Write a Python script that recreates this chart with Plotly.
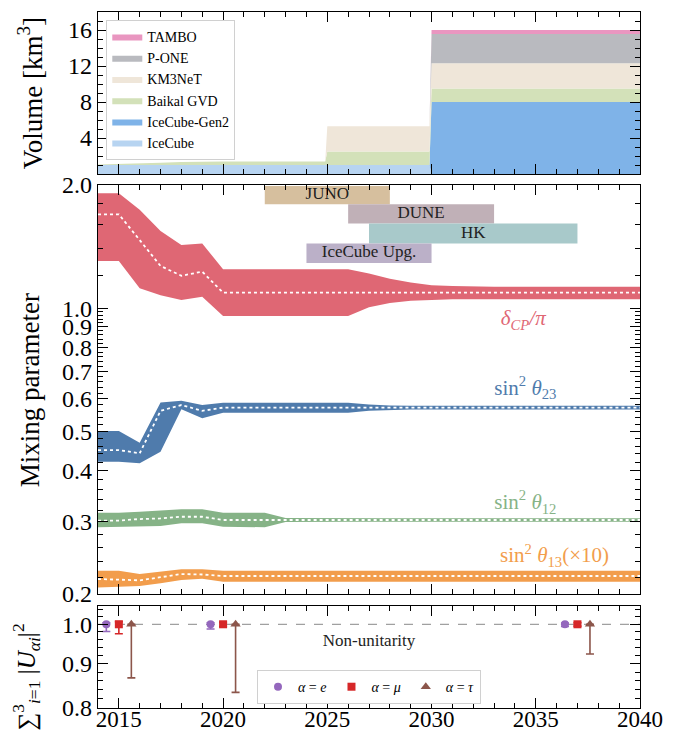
import math
import plotly.graph_objects as go

FONT = "Liberation Serif"

# ---------------- Top panel: detector volumes [km^3] ----------------
vol_years = [2014, 2015, 2016, 2017, 2018, 2019, 2020, 2024.9, 2025, 2029.9, 2030, 2040]
vol_icecube = [1, 1, 1, 1, 1, 1, 1, 1, 1, 1, 0, 0]
vol_gen2 = [0, 0, 0, 0, 0, 0, 0, 0, 0, 0, 8, 8]
vol_baikal = [0.05, 0.1, 0.15, 0.25, 0.35, 0.4, 0.4, 0.4, 1.5, 1.5, 1.5, 1.5]
vol_km3net = [0, 0, 0, 0, 0, 0, 0, 0, 2.8, 2.8, 2.8, 2.8]
vol_pone = [0, 0, 0, 0, 0, 0, 0, 0, 0, 0, 3.25, 3.25]
vol_tambo = [0, 0, 0, 0, 0, 0, 0, 0, 0, 0, 0.45, 0.45]
vol_names = ["IceCube", "IceCube-Gen2", "Baikal GVD", "KM3NeT", "P-ONE", "TAMBO"]
vol_colors = ["#b7d4f1", "#7fb3e8", "#d3e1b9", "#efe6d9", "#b9babf", "#e996c0"]

# ---------------- Middle panel: mixing parameters ----------------
years = [2014, 2015, 2016, 2017, 2018, 2019, 2020, 2021, 2022, 2023, 2024, 2025, 2026,
         2027, 2028, 2029, 2030, 2031, 2032, 2033, 2034, 2035, 2036, 2037, 2038, 2039, 2040]

dcp_hi = [1.91, 1.91, 1.74, 1.545, 1.427, 1.44, 1.244, 1.244, 1.244, 1.244, 1.244, 1.244, 1.244,
          1.215, 1.18, 1.155, 1.138, 1.132, 1.129, 1.128, 1.128, 1.128, 1.128, 1.128, 1.128, 1.128, 1.128]
dcp_lo = [1.304, 1.304, 1.118, 1.076, 1.047, 1.066, 0.957, 0.957, 0.957, 0.957, 0.957, 0.957, 0.957,
          1.005, 1.03, 1.043, 1.049, 1.051, 1.052, 1.052, 1.052, 1.052, 1.052, 1.052, 1.052, 1.052, 1.052]
dcp_c = [1.696, 1.696, 1.467, 1.268, 1.2, 1.228, 1.091, 1.091, 1.091, 1.091, 1.091, 1.091, 1.091,
         1.091, 1.091, 1.091, 1.091, 1.091, 1.091, 1.091, 1.091, 1.091, 1.091, 1.091, 1.091, 1.091, 1.091]

t23_hi = [0.5006, 0.5006, 0.4688, 0.588, 0.594, 0.5796, 0.587, 0.587, 0.587, 0.587, 0.587, 0.587, 0.587,
          0.581, 0.578, 0.5775, 0.5775, 0.5775, 0.5775, 0.5775, 0.5775, 0.5775, 0.5775, 0.5775, 0.5775, 0.5775, 0.5775]
t23_lo = [0.4213, 0.4213, 0.4174, 0.4457, 0.5656, 0.5378, 0.555, 0.555, 0.555, 0.555, 0.555, 0.555, 0.555,
          0.561, 0.564, 0.565, 0.565, 0.565, 0.565, 0.565, 0.565, 0.565, 0.565, 0.565, 0.565, 0.565, 0.565]
t23_c = [0.4498, 0.4498, 0.4416, 0.561, 0.5796, 0.561, 0.571, 0.571, 0.571, 0.571, 0.571, 0.571, 0.571,
         0.571, 0.571, 0.571, 0.571, 0.571, 0.571, 0.571, 0.571, 0.571, 0.571, 0.571, 0.571, 0.571, 0.571]

t12_hi = [0.3161, 0.3161, 0.318, 0.3197, 0.3222, 0.3222, 0.3161, 0.3161, 0.3161, 0.3068, 0.3065, 0.3065, 0.3065,
          0.3065, 0.3065, 0.3065, 0.3065, 0.3065, 0.3065, 0.3065, 0.3065, 0.3065, 0.3065, 0.3065, 0.3065, 0.3065, 0.3065]
t12_lo = [0.2912, 0.2915, 0.2925, 0.2933, 0.2978, 0.2978, 0.2922, 0.2922, 0.2912, 0.3, 0.3005, 0.3005, 0.3005,
          0.3005, 0.3005, 0.3005, 0.3005, 0.3005, 0.3005, 0.3005, 0.3005, 0.3005, 0.3005, 0.3005, 0.3005, 0.3005, 0.3005]
t12_c = [0.3022, 0.3025, 0.305, 0.306, 0.309, 0.309, 0.3034, 0.3034, 0.3034, 0.3034, 0.3034, 0.3034, 0.3034,
         0.3034, 0.3034, 0.3034, 0.3034, 0.3034, 0.3034, 0.3034, 0.3034, 0.3034, 0.3034, 0.3034, 0.3034, 0.3034, 0.3034]

t13_hi = [0.228, 0.228, 0.2238, 0.2267, 0.2298, 0.2298, 0.228, 0.228, 0.228, 0.228, 0.228, 0.228, 0.228,
          0.228, 0.228, 0.228, 0.228, 0.228, 0.228, 0.228, 0.228, 0.228, 0.228, 0.228, 0.228, 0.228, 0.228]
t13_lo = [0.2076, 0.208, 0.2091, 0.2124, 0.2164, 0.218, 0.2144, 0.2144, 0.2144, 0.2144, 0.2144, 0.2144, 0.2144,
          0.2144, 0.2144, 0.2144, 0.2144, 0.2144, 0.2144, 0.2144, 0.2144, 0.2144, 0.2144, 0.2144, 0.2144, 0.2144, 0.2144]
t13_c = [0.2176, 0.2172, 0.216, 0.2198, 0.2238, 0.2232, 0.2213, 0.2213, 0.2213, 0.2213, 0.2213, 0.2213, 0.2213,
         0.2213, 0.2213, 0.2213, 0.2213, 0.2213, 0.2213, 0.2213, 0.2213, 0.2213, 0.2213, 0.2213, 0.2213, 0.2213, 0.2213]

param_labels = ["<i>δ</i><sub><i>CP</i></sub><i>/π</i>", "sin<sup>2</sup> <i>θ</i><sub>23</sub>",
                "sin<sup>2</sup> <i>θ</i><sub>12</sub>", "sin<sup>2</sup> <i>θ</i><sub>13</sub>(×10)"]
label_x = [2034.4, 2034.5, 2034.5, 2035.9]
label_y = [0.935, 0.632, 0.332, 0.246]
param_colors = ["#df6774", "#4f7bac", "#86b387", "#f29d4c"]

# Experiments running periods
exp_names = ["JUNO", "DUNE", "HK", "IceCube Upg."]
exp_start = [2022, 2026, 2027, 2024]
exp_end = [2028, 2033, 2037, 2030]
exp_low = [1.795, 1.61, 1.44, 1.29]
exp_high = [1.99, 1.795, 1.61, 1.44]
exp_colors = ["#d6bf9e", "#c0b0b7", "#a8c9ca", "#bbb0c8"]

# ---------------- Bottom panel: non-unitarity ----------------
e_x = [2014.4, 2019.4, 2036.4]
e_val = [1.0, 1.0, 1.0]
e_err_lo = [0.019, 0.0125, 0.006]
e_err_hi = [0.004, 0.004, 0.003]
mu_x = [2015.0, 2020.0, 2037.0]
mu_val = [1.0, 1.0, 1.0]
mu_err_lo = [0.025, 0.006, 0.005]
mu_err_hi = [0.007, 0.005, 0.004]
tau_x = [2015.6, 2020.6, 2037.6]
tau_val = [1.0, 1.0, 1.0]
tau_err_lo = [0.133, 0.166, 0.076]
tau_err_hi = [0.0, 0.0, 0.0]

fig = go.Figure()

# Stacked volume areas
vols = [vol_icecube, vol_gen2, vol_baikal, vol_km3net, vol_pone, vol_tambo]
for name, v, c in zip(vol_names, vols, vol_colors):
    fig.add_trace(go.Scatter(x=vol_years, y=v, name=name, stackgroup="vol", mode="lines",
                             line=dict(width=0, color=c), fillcolor=c, xaxis="x", yaxis="y",
                             legend="legend", hoverinfo="skip"))

# Mixing parameter bands
bands = [(dcp_lo, dcp_hi, dcp_c), (t23_lo, t23_hi, t23_c), (t12_lo, t12_hi, t12_c), (t13_lo, t13_hi, t13_c)]
for (lo, hi, c), col in zip(bands, param_colors):
    fig.add_trace(go.Scatter(x=years, y=lo, mode="lines", line=dict(width=0, color=col),
                             xaxis="x2", yaxis="y2", showlegend=False, hoverinfo="skip"))
    fig.add_trace(go.Scatter(x=years, y=hi, mode="lines", line=dict(width=0, color=col),
                             fill="tonexty", fillcolor=col, xaxis="x2", yaxis="y2",
                             showlegend=False, hoverinfo="skip"))
    fig.add_trace(go.Scatter(x=years, y=c, mode="lines", line=dict(width=1.8, color="white", dash="dot"),
                             xaxis="x2", yaxis="y2", showlegend=False, hoverinfo="skip"))

fig.add_trace(go.Scatter(x=label_x, y=label_y, mode="text", text=param_labels,
                         textfont=dict(family=FONT, size=21, color=param_colors),
                         xaxis="x2", yaxis="y2", showlegend=False, hoverinfo="skip"))

# Experiment bars
for name, s, e, lo, hi, col in zip(exp_names, exp_start, exp_end, exp_low, exp_high, exp_colors):
    fig.add_trace(go.Scatter(x=[s, e, e, s, s], y=[lo, lo, hi, hi, lo], mode="lines", fill="toself",
                             fillcolor=col, line=dict(width=0, color=col),
                             xaxis="x2", yaxis="y2", showlegend=False, hoverinfo="skip"))
    fig.add_trace(go.Scatter(x=[(s + e) / 2], y=[math.sqrt(lo * hi)], mode="text", text=[name],
                             textfont=dict(family=FONT, size=17, color="#222222"),
                             xaxis="x2", yaxis="y2", showlegend=False, hoverinfo="skip"))

# Non-unitarity points
fig.add_trace(go.Scatter(x=[2014, 2040], y=[1.0, 1.0], mode="lines",
                         line=dict(color="#a0a0a0", width=1.2, dash="dash"),
                         xaxis="x3", yaxis="y3", showlegend=False, hoverinfo="skip"))
series = [
    ("<i>α</i> = <i>e</i>", e_x, e_val, e_err_lo, e_err_hi, "#9467bd", "circle", 8),
    ("<i>α</i> = <i>μ</i>", mu_x, mu_val, mu_err_lo, mu_err_hi, "#d62728", "square", 8),
    ("<i>α</i> = <i>τ</i>", tau_x, tau_val, tau_err_lo, tau_err_hi, "#8c564b", "triangle-up", 9),
]
for name, x, y, elo, ehi, col, sym, sz in series:
    fig.add_trace(go.Scatter(x=x, y=y, mode="markers", name=name,
                             marker=dict(symbol=sym, size=sz, color=col),
                             error_y=dict(type="data", symmetric=False, array=ehi, arrayminus=elo,
                                          color=col, thickness=1.6, width=4),
                             xaxis="x3", yaxis="y3", legend="legend2", hoverinfo="skip"))

fig.add_trace(go.Scatter(x=[2027], y=[0.954], mode="text", text=["Non-unitarity"],
                         textfont=dict(family=FONT, size=17, color="#222222"),
                         xaxis="x3", yaxis="y3", showlegend=False, hoverinfo="skip"))

axis_common = dict(showline=True, linecolor="black", linewidth=1.3, mirror="allticks",
                   ticks="inside", ticklen=10, tickwidth=1.2, tickcolor="black",
                   showgrid=False, zeroline=False, automargin=False,
                   tickfont=dict(family=FONT, size=24, color="black"))

xtickvals = [2015, 2020, 2025, 2030, 2035, 2040]
xminor = dict(tickmode="linear", tick0=2014, dtick=1, ticks="inside", ticklen=5, tickwidth=1.1, tickcolor="black")

y2_minor = [round(0.2 + 0.02 * i, 2) for i in range(1, 40) if i % 5 != 0] + [1.2, 1.4, 1.6, 1.8]
y3_minor = [0.82, 0.84, 0.86, 0.88, 0.92, 0.94, 0.96, 0.98, 1.02, 1.04]

title_font = dict(family=FONT, size=27, color="black")

x3_common = dict(axis_common)
x3_common["tickfont"] = dict(family=FONT, size=23, color="black")

fig.update_layout(
    width=667, height=725,
    margin=dict(l=90, r=35, t=4, b=25),
    paper_bgcolor="white", plot_bgcolor="white",
    font=dict(family=FONT, color="black"),
    xaxis=dict(domain=[0, 1], anchor="y", range=[2014, 2040], tickvals=xtickvals,
               showticklabels=False, minor=xminor, **axis_common),
    xaxis2=dict(domain=[0, 1], anchor="y2", range=[2014, 2040], tickvals=xtickvals, matches="x",
                showticklabels=False, minor=xminor, **axis_common),
    xaxis3=dict(domain=[0, 1], anchor="y3", range=[2014, 2040], tickvals=xtickvals, matches="x",
                showticklabels=True, minor=xminor, ticklabelstandoff=-10, **x3_common),
    yaxis=dict(domain=[0.7672, 1.0], anchor="x", range=[0, 18], tickvals=[4, 8, 12, 16],
               minor=dict(tickmode="linear", tick0=0, dtick=1, ticks="inside", ticklen=5,
                          tickwidth=1.1, tickcolor="black"),
               **axis_common),
    yaxis2=dict(domain=[0.1638, 0.7514], anchor="x2", type="log",
                range=[math.log10(0.2), math.log10(2.0)],
                tickvals=[0.2, 0.3, 0.4, 0.5, 0.6, 0.7, 0.8, 0.9, 1.0, 2.0],
                ticktext=["0.2", "0.3", "0.4", "0.5", "0.6", "0.7", "0.8", "0.9", "1.0", "2.0"],
                minor=dict(tickmode="array", tickvals=y2_minor, ticks="inside", ticklen=5,
                           tickwidth=1.1, tickcolor="black"),
                **axis_common),
    yaxis3=dict(domain=[0, 0.1466], anchor="x3", type="log",
                range=[math.log10(0.8), math.log10(1.05)],
                tickvals=[0.8, 0.9, 1.0], ticktext=["0.8", "0.9", "1.0"],
                minor=dict(tickmode="array", tickvals=y3_minor, ticks="inside", ticklen=5,
                           tickwidth=1.1, tickcolor="black"),
                **axis_common),
    legend=dict(x=0.0153, y=0.9885, xanchor="left", yanchor="top", bgcolor="white",
                bordercolor="#d0d0d0", borderwidth=1, traceorder="reversed", tracegroupgap=0,
                font=dict(family=FONT, size=14, color="black")),
    legend2=dict(orientation="h", x=0.5, xanchor="center", y=0.03, yanchor="middle",
                 bgcolor="white", bordercolor="#d0d0d0", borderwidth=1,
                 font=dict(family=FONT, size=14, color="black")),
    annotations=[
        dict(text="Volume [km<sup>3</sup>]", x=-0.125, y=0.8836, xref="paper", yref="paper",
             xanchor="center", yanchor="middle",
             textangle=-90, showarrow=False, font=title_font),
        dict(text="Mixing parameter", x=-0.125, y=0.457, xref="paper", yref="paper",
             xanchor="center", yanchor="middle",
             textangle=-90, showarrow=False, font=title_font),
        dict(text="∑<sup>3</sup><sub><i>i</i>=1</sub> |<i>U</i><sub><i>αi</i></sub>|<sup>2</sup>",
             x=-0.133, y=0.045, xref="paper", yref="paper",
             xanchor="center", yanchor="middle",
             textangle=-90, showarrow=False, font=dict(family=FONT, size=25, color="black")),
    ],
)

fig.write_html("out.html")
